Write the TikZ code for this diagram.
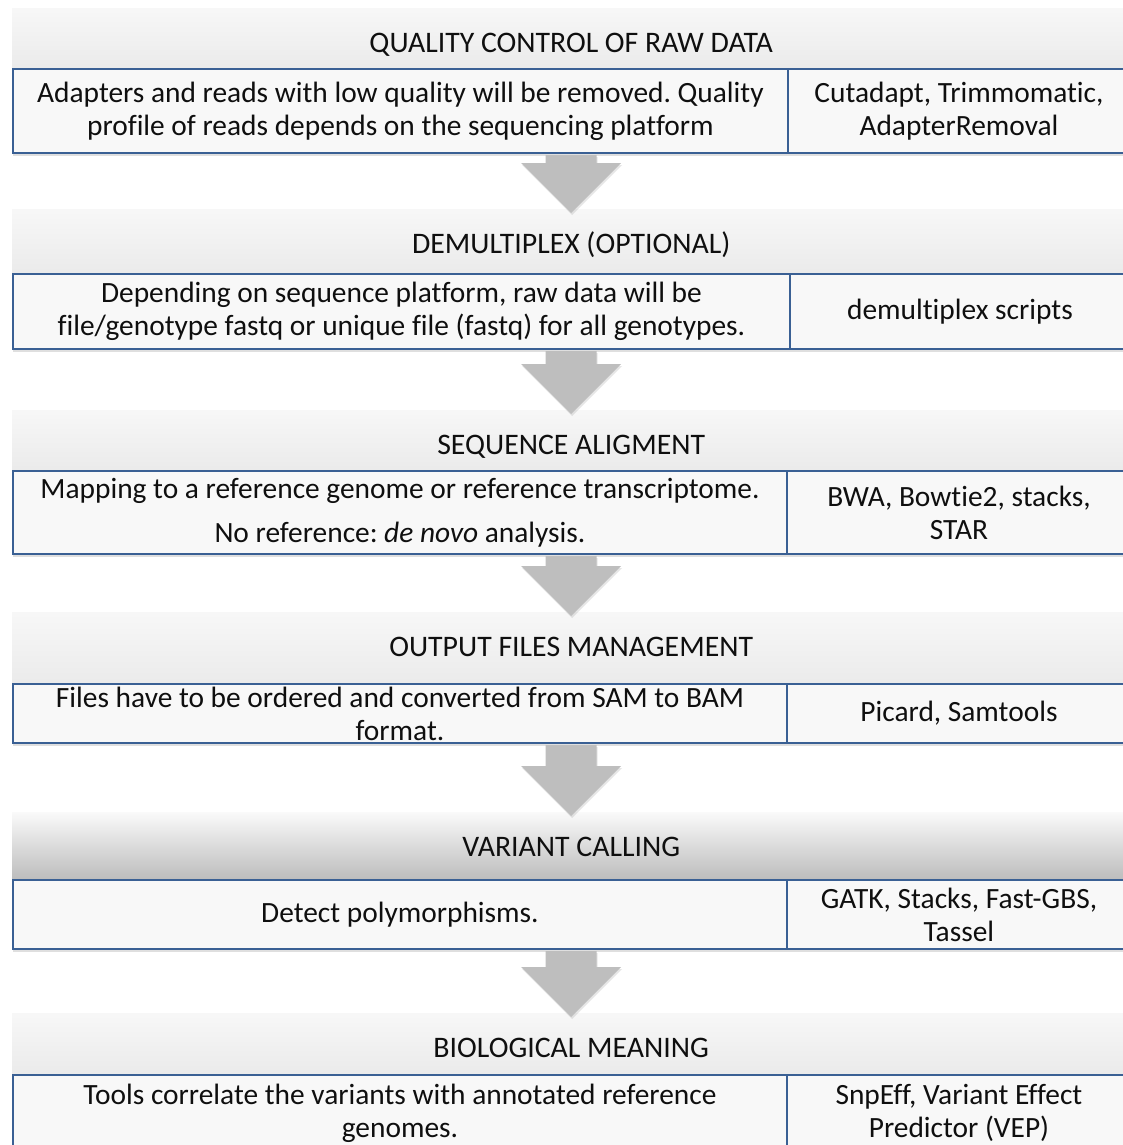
\documentclass[tikz,border=0pt]{standalone}
\usepackage{fontspec}
\setmainfont[Ligatures=NoCommon]{Carlito}
\usetikzlibrary{calc,shadows}
\definecolor{cellblue}{RGB}{58,96,148}
\definecolor{cellfill}{RGB}{248,248,248}
\definecolor{arrowgray}{RGB}{190,190,190}
\definecolor{txtcol}{RGB}{15,15,15}
\tikzset{
  hdr/.style={draw=none, top color=black!3, bottom color=black!8, minimum width=1118pt, anchor=north west, inner sep=0pt},
  hdrdark/.style={draw=none, top color=black!2, middle color=black!21, bottom color=black!26, minimum width=1118pt, anchor=north west, inner sep=0pt},
  cell/.style={draw=cellblue, line width=1.9pt, fill=cellfill, anchor=north west, inner sep=0pt,
    drop shadow={shadow xshift=0pt, shadow yshift=-3pt, opacity=0.25}},
  txt/.style={font=\fontsize{29.4}{33}\selectfont\frenchspacing, align=center, inner sep=0pt, text=txtcol},
  htxt/.style={font=\fontsize{29.8}{33}\selectfont, anchor=base, inner sep=0pt, text=txtcol},
  arr/.style={fill=arrowgray, drop shadow={shadow xshift=1pt, shadow yshift=-2pt, opacity=0.2}},
}
\newcommand\flowarrow[3]{%
  \path (#1.south -| #2.north) coordinate (#3s) ($(#2.north)+(0,4)$) coordinate (#3e);
  \fill[arr] ($(#3s)+(-25.5,1.2)$) -- ($(#3e)+(-25.5,-50)$) -- ($(#3e)+(-50,-50)$) -- (#3e)
     -- ($(#3e)+(50,-50)$) -- ($(#3e)+(25.5,-50)$) -- ($(#3s)+(25.5,1.2)$) -- cycle;
}
\begin{document}
\begin{tikzpicture}[x=1pt,y=-1pt]
\useasboundingbox (0,0) rectangle (1123,1145);
\clip (0,0) rectangle (1123,1145);

% ---- Stage 1
\node[hdr, minimum height=60pt] (h1) at (12,8) {};
\node[htxt] (h1t) at ($(h1.north)+(0,44.5)$) {QUALITY CONTROL OF RAW DATA};
\node[cell, minimum width=775pt, minimum height=84pt] (c1l) at (12,68) {};
\node[cell, minimum width=343pt, minimum height=84pt] (c1r) at (787,68) {};
\node[txt] (t1l) at (c1l.center) {Adapters and reads with low quality will be removed. Quality\\profile of reads depends on the sequencing platform};
\node[txt] (t1r) at ($(c1r.center)+(-0.5,0)$) {Cutadapt, Trimmomatic,\\AdapterRemoval};

% ---- Stage 2
\node[hdr, minimum height=64pt] (h2) at (12,209) {};
\node[htxt] (h2t) at ($(h2.north)+(0,44.5)$) {DEMULTIPLEX (OPTIONAL)};
\node[cell, minimum width=777pt, minimum height=75pt] (c2l) at (12,273) {};
\node[cell, minimum width=341pt, minimum height=75pt] (c2r) at (789,273) {};
\node[txt] (t2l) at (c2l.center) {Depending on sequence platform, raw data will be\\file/genotype fastq or unique file (fastq) for all genotypes.};
\node[txt] (t2r) at ($(c2r.center)+(-0.5,0)$) {demultiplex scripts};

% ---- Stage 3
\node[hdr, minimum height=60pt] (h3) at (12,410) {};
\node[htxt] (h3t) at ($(h3.north)+(0,44.5)$) {SEQUENCE ALIGMENT};
\node[cell, minimum width=774pt, minimum height=83pt] (c3l) at (12,470) {};
\node[cell, minimum width=344pt, minimum height=83pt] (c3r) at (786,470) {};
\node[txt] (t3l) at (c3l.center) {Mapping to a reference genome or reference transcriptome.\\[11pt]No reference: \textit{de novo} analysis.};
\node[txt] (t3r) at (c3r.center) {BWA, Bowtie2, stacks,\\STAR};

% ---- Stage 4
\node[hdr, minimum height=71pt] (h4) at (12,612) {};
\node[htxt] (h4t) at ($(h4.north)+(0,44.5)$) {OUTPUT FILES MANAGEMENT};
\node[cell, minimum width=774pt, minimum height=59pt] (c4l) at (12,683) {};
\node[cell, minimum width=344pt, minimum height=59pt] (c4r) at (786,683) {};
\node[txt] (t4l) at (c4l.center) {Files have to be ordered and converted from SAM to BAM\\format.};
\node[txt] (t4r) at (c4r.center) {Picard, Samtools};

% ---- Stage 5
\node[hdrdark, minimum height=67pt] (h5) at (12,812) {};
\node[htxt] (h5t) at ($(h5.north)+(0,44.5)$) {VARIANT CALLING};
\node[cell, minimum width=774pt, minimum height=69pt] (c5l) at (12,879) {};
\node[cell, minimum width=344pt, minimum height=69pt] (c5r) at (786,879) {};
\node[txt] (t5l) at (c5l.center) {Detect polymorphisms.};
\node[txt] (t5r) at (c5r.center) {GATK, Stacks, Fast-GBS,\\Tassel};

% ---- Stage 6
\node[hdr, minimum height=61pt] (h6) at (12,1013) {};
\node[htxt] (h6t) at ($(h6.north)+(0,44.5)$) {BIOLOGICAL MEANING};
\node[cell, minimum width=774pt, minimum height=76pt] (c6l) at (12,1074) {};
\node[cell, minimum width=344pt, minimum height=76pt] (c6r) at (786,1074) {};
\node[txt] (t6l) at (c6l.center) {Tools correlate the variants with annotated reference\\genomes.};
\node[txt] (t6r) at (c6r.center) {SnpEff, Variant Effect\\Predictor (VEP)};

% ---- Arrows
\flowarrow{c1l}{h2}{a1}
\flowarrow{c2l}{h3}{a2}
\flowarrow{c3l}{h4}{a3}
\flowarrow{c4l}{h5}{a4}
\flowarrow{c5l}{h6}{a5}
\end{tikzpicture}
\end{document}
